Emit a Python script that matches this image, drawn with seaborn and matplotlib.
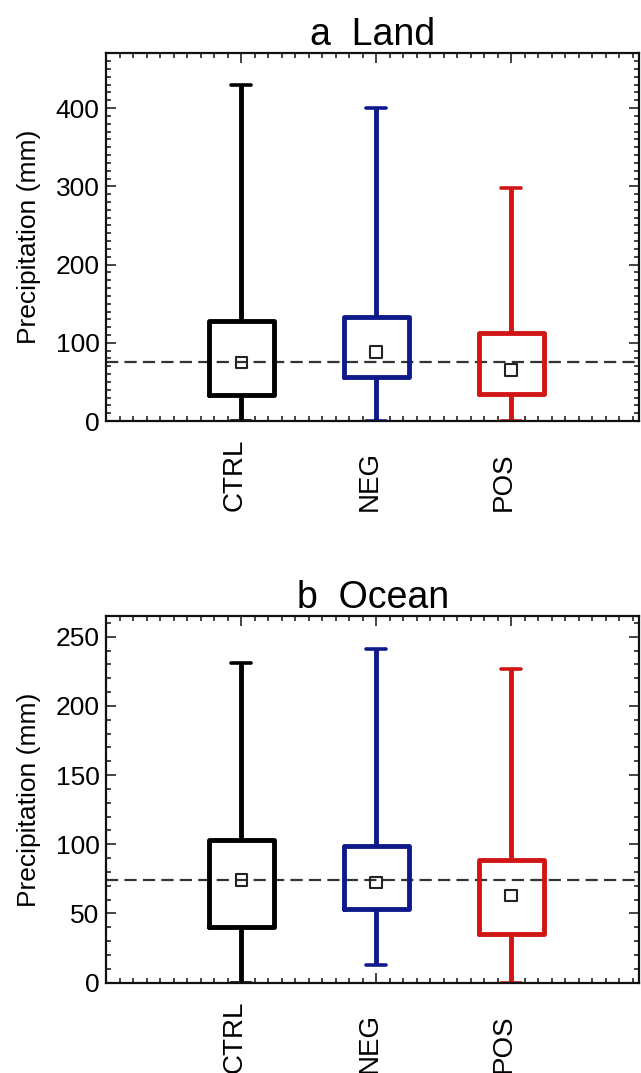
import numpy as np
import pandas as pd
import matplotlib
matplotlib.use('Agg')
import matplotlib.pyplot as plt
import matplotlib.transforms as mtrans
from matplotlib.ticker import MultipleLocator
import seaborn as sns

# groups and colours
groups = ['CTRL', 'NEG', 'POS']
colors = ['black', '#0f1a8a', '#d01515']

# panel a: land (mm)
land_low = [0, 0, 0]
land_q1 = [33, 56, 34]
land_q3 = [128, 133, 112]
land_high = [430, 400, 298]
land_mean = [75, 88, 65]

# panel b: ocean (mm)
ocean_low = [0, 13, 0]
ocean_q1 = [40, 53, 35.5]
ocean_q3 = [103, 99, 89]
ocean_high = [231, 241, 227]
ocean_mean = [74, 72.5, 63]


def long_table(low, q1, mid, q3, high):
    # five summary values per group -> quartiles/whiskers come out exactly
    rows = []
    for g, vals in zip(groups, zip(low, q1, mid, q3, high)):
        for v in vals:
            rows.append((g, v))
    return pd.DataFrame(rows, columns=['group', 'value'])


sns.set_style('ticks')
plt.rcParams['font.family'] = ['Liberation Sans', 'DejaVu Sans']
plt.rcParams['text.color'] = 'black'
plt.rcParams['axes.labelcolor'] = 'black'
plt.rcParams['xtick.color'] = 'black'
plt.rcParams['ytick.color'] = 'black'

fig = plt.figure(figsize=(6.41, 10.73), dpi=100)
ax1 = fig.add_axes([0.166, 0.6076, 0.8315, 0.3427])
ax2 = fig.add_axes([0.166, 0.0842, 0.8315, 0.3417])


def panel(ax, title, low, q1, mean, q3, high, ymax, major):
    df = long_table(low, q1, mean, q3, high)
    ax.axhline(mean[0], color='#333333', lw=1.6, dashes=(5.5, 2.8), zorder=1)
    sns.boxplot(data=df, x='group', y='value', hue='group',
                palette=dict(zip(groups, colors)), fill=False, width=0.48,
                whis=(0, 100), showfliers=False, linewidth=3.5,
                medianprops={'visible': False}, capwidths=0.15,
                capprops={'linewidth': 2.6},
                legend=False, ax=ax)
    sns.scatterplot(x=groups, y=mean, marker='s', s=70, color='none',
                    edgecolor='#222222', linewidth=1.5, zorder=5, ax=ax,
                    legend=False)

    ax.set_xlim(-1.0, 2.95)
    ax.set_ylim(0, ymax)
    ax.yaxis.set_major_locator(MultipleLocator(major))
    ax.yaxis.set_minor_locator(MultipleLocator(10))
    ax.xaxis.set_minor_locator(MultipleLocator(0.1))
    ax.set_xticks(range(3), groups, rotation=90, rotation_mode='anchor',
                  ha='left', va='baseline')

    ax.tick_params(which='both', direction='in', top=True, right=True,
                   color='#111111', width=1.1)
    ax.tick_params(which='major', length=7.5)
    ax.tick_params(which='minor', length=3.6)
    ax.tick_params(axis='y', labelsize=19, pad=5)
    ax.tick_params(axis='x', labelsize=20, pad=65)
    for s in ax.spines.values():
        s.set_linewidth(1.6)
        s.set_color('#111111')

    ax.set_xlabel('')
    ax.set_ylabel('Precipitation (mm)', fontsize=19)
    ax.yaxis.set_label_coords(-0.123, 0.5)
    ax.set_title(title, fontsize=27, pad=4.5)

    # the zero label sits just above the bottom axis
    lab = ax.yaxis.get_majorticklabels()[0]
    lab.set_transform(lab.get_transform() +
                      mtrans.ScaledTranslation(0, 6 / 72, fig.dpi_scale_trans))


panel(ax1, 'a  Land', land_low, land_q1, land_mean, land_q3, land_high, 470, 100)
panel(ax2, 'b  Ocean', ocean_low, ocean_q1, ocean_mean, ocean_q3, ocean_high, 265, 50)

fig.savefig('out.png', dpi=100)
